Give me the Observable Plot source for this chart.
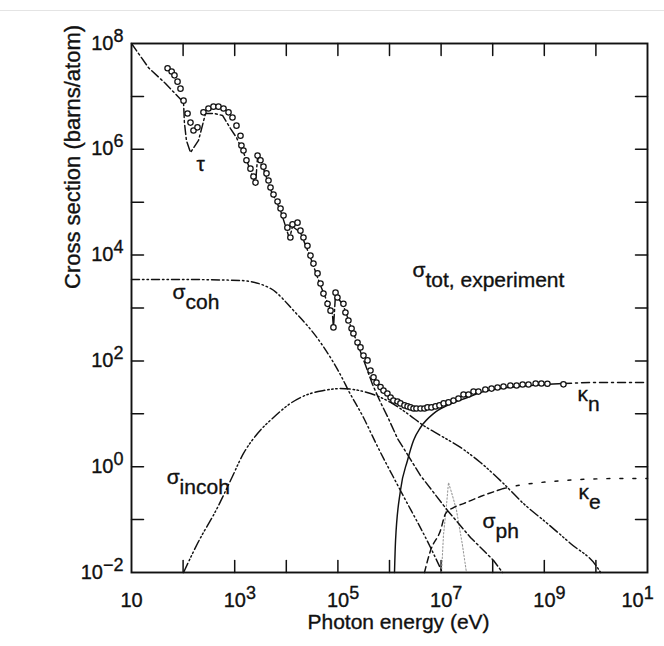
<!DOCTYPE html>
<html><head><meta charset="utf-8">
<script src="https://cdn.jsdelivr.net/npm/d3@7"></script>
<script src="https://cdn.jsdelivr.net/npm/@observablehq/plot@0.6"></script>
<style>
body{margin:0;background:#fff;}
#chart svg{display:block;}
#edge{position:absolute;left:0;top:10px;width:664px;height:1px;background:#e4e4e4;}
</style></head><body>
<div id="edge"></div>
<div id="chart"></div>
<script>
// ---- tick values and labels ----
const xTickVals = [1e2,1e3,1e4,1e5,1e6,1e7,1e8,1e9,1e10];
const yTickVals = [1e-1,1,1e1,1e2,1e3,1e4,1e5,1e6,1e7];
const xLabelVals = [10,1e3,1e5,1e7,1e9];
const xLabelText = ["10","10^3","10^5","10^7","10^9"];
const xLastVal = [1e11];
const xLastText = ["10^1"];
const yLabelVals = [1e8,1e6,1e4,1e2,1,1e-2];
const yLabelText = ["10^8","10^6","10^4","10^2","10^0","10^\u22122"];

// ---- sigma_tot, experiment (open circles) ----
const expE = [50,60,68,78,89,102,122,139,159,190,248,310,388,485,607,759,906,1083,1295,1350,1480,1690,2020,2310,2530,
  2770,3160,3610,4130,4520,4940,5650,6760,7730,8830,1.05e4,1.2e4,1.32e4,1.65e4,1.88e4,2.15e4,2.57e4,2.94e4,3.36e4,4.03e4,
  4.6e4,5.25e4,6.3e4,7.2e4,8.2e4,9e4,9.8e4,1.28e5,1.4e5,1.6e5,1.84e5,2e5,2.4e5,2.74e5,3.13e5,3.75e5,4.28e5,4.9e5,5.6e5,
  6.7e5,7.65e5,9.1e5,1.05e6,1.19e6,1.43e6,1.63e6,1.95e6,2.24e6,2.55e6,2.92e6,3.33e6,4e6,4.76e6,5.45e6,6.5e6,7.8e6,9.3e6,
  1.12e7,1.39e7,1.74e7,2.17e7,2.72e7,3.4e7,4.25e7,5.3e7,7.2e7,9.5e7,1.24e8,1.62e8,2.2e8,2.9e8,3.8e8,4.94e8,6.8e8,8.8e8,1.15e9,2.35e9];
const expS = [3.4e7,2.95e7,2.5e7,1.9e7,1.4e7,8.3e6,4.75e6,3.2e6,2.27e6,2.6e6,5e6,5.9e6,6.4e6,6.4e6,5.9e6,5e6,4e6,2.8e6,1.8e6,1.18e6,9.5e5,6.2e5,4.3e5,3.06e5,2.35e5,
  7.6e5,6.2e5,4.7e5,3.5e5,2.57e5,1.9e5,1.4e5,1.03e5,7.6e4,5.6e4,3.3e4,2.15e4,3.8e4,4.1e4,2.9e4,2.15e4,1.5e4,9.8e3,6.9e3,4.5e3,
  2.9e3,1.87e3,1.2e3,890,430,1950,1580,1200,823,580,409,330,223,180,126,102,65.8,49,38.9,
  32,27.5,24.2,20.3,17.8,17.1,15.7,14.4,13.8,13.2,12.6,12.6,12.6,12.6,13.2,13.2,13.8,14.4,
  15.7,16.4,17.8,19.5,23.2,23.2,26.3,26.3,28.8,30,31.4,32.8,34.3,34.3,35.8,35.8,37.4,37.4,37,36];

// ---- tau (photoelectric) ----
const tauE = [10,21.3,45.6,102,106,116,139,199,272,406,581,830,1080,1480,2020,2530,2770,3610,4940,7730,1.15e4,1.32e4,1.88e4,2.94e4,4.6e4,7.85e4,8.2e4,8.98e4,
  1.28e5,1.75e5,2.4e5,3.28e5,4.69e5,6.7e5,9.14e5,1.43e6,3.99e6,1.33e7,3.71e7,1.04e8,1.55e8];
const tauS = [1e8,3.5e7,1.75e7,7.7e6,3.2e6,1.47e6,8.7e5,1.47e6,4.75e6,4.75e6,4.36e6,2.47e6,1.67e6,8.7e5,3.98e5,2.16e5,7e5,4.34e5,1.74e5,6.97e4,2.06e4,3.47e4,2.67e4,9e3,2.66e3,753,409,1.8e3,
  1.11e3,467,213,93,35.8,16.4,8.9,3.41,0.68,0.149,0.046,0.0169,0.01];

// ---- sigma_coh ----
const cohE = [10,89,1295,4940,1.38e4,4.6e4,1.28e5,1.53e5,3.13e5,5.6e5,1.63e6,6.24e6,1.06e7];
const cohS = [3460,3460,3310,2340,897,223,42.6,30,8.5,2.63,0.355,0.0297,0.01];

// ---- sigma_incoh ----
const incE = [102,190,464,830,1480,2770,5650,1.2e4,2.94e4,5.26e4,1.12e5,2e5,4.29e5,1.05e6,2.23e6,4.56e6,9.7e6,2.38e7,5.8e7,1.62e8,3.95e8,1.15e9,3.22e9,1.07e10,1.23e10];
const incS = [0.01,0.0353,0.169,0.548,1.78,4.25,8.51,15.7,24.2,27.5,30,28.8,24.2,16.4,10.1,6.01,3.89,2.31,1.2,0.48,0.201,0.0843,0.0353,0.0124,0.01];

// ---- kappa_n (pair, nuclear field) ----
const knE = [1.25e6,1.31e6,1.63e6,2.23e6,2.92e6,3.99e6,7.13e6,1.33e7,3.25e7,5.8e7,1.42e8,5.4e8,2.36e9];
const knS = [0.01,0.0403,0.355,1.31,3.13,5.51,10.1,14.4,20.3,25.3,30,34.3,37.4];
const knTailE = [2.36e9,1.23e10,1e11];
const knTailS = [37.4,39.1,39.1];

// ---- kappa_e (pair, electron field) ----
const keE = [4.76e6,6.24e6,9.73e6,1.22e7,1.74e7,2.72e7,5.8e7,1.62e8];
const keS = [0.01,0.026,0.0622,0.13,0.169,0.201,0.273,0.387];
const keTailE = [1.62e8,3.95e8,8.43e8,5.03e9,3e10,1e11];
const keTailS = [0.387,0.46,0.502,0.573,0.598,0.598];

// ---- sigma_ph (photonuclear) ----
const phE = [1.02e7,1.11e7,1.27e7,1.39e7,1.66e7,1.99e7,2.6e7,3.1e7];
const phS = [0.01,0.05,0.185,0.502,0.285,0.149,0.0324,0.01];

// ---- curve labels ----
const labelText = ["\u03c4","\u03c3_coh","\u03c3_tot, experiment","\u03c3_incoh","\u03ba_n","\u03ba_e","\u03c3_ph"];
const labelE = [182,62.4,2.79e6,48,4.4e9,4.6e9,6.34e7];
const labelS = [3.97e5,1510,3780,0.481,17.8,0.25,0.068];

const xTitle = "Photon energy (eV)";
const yTitle = "Cross section (barns/atom)";

const pts = (E,S) => E.map((e,i)=>({E:e, s:S[i]}));
const ink = "#111";
const tickShape = {draw(ctx, l){ ctx.moveTo(0,0); ctx.lineTo(0,-l); }};
const tk = {length: 12, anchor: "start", shape: tickShape, stroke: ink, strokeWidth: 1.5};
const lineOpt = (extra) => Object.assign({x:"E", y:"s", stroke: ink, strokeWidth: 1.45, curve: "monotone-x"}, extra);
const txt = {fill: ink, stroke: ink, strokeWidth: 0.35};

const chart = Plot.plot({
  width: 664, height: 646,
  marginLeft: 131, marginRight: 17, marginTop: 43, marginBottom: 74,
  style: {fontFamily: "'Liberation Sans', Arial, Helvetica, sans-serif", background: "white", color: ink},
  x: {type: "log", domain: [10, 1e11], axis: null},
  y: {type: "log", domain: [1e-2, 1e8], axis: null},
  marks: [
    // inward ticks on all four sides
    Plot.vector(xTickVals, {x: d=>d, frameAnchor: "bottom", rotate: 0, ...tk}),
    Plot.vector(xTickVals, {x: d=>d, frameAnchor: "top", rotate: 180, ...tk}),
    Plot.vector(yTickVals, {y: d=>d, frameAnchor: "left", rotate: 90, ...tk}),
    Plot.vector(yTickVals, {y: d=>d, frameAnchor: "right", rotate: 270, ...tk}),
    // theory curves
    Plot.line(pts(phE,phS), lineOpt({stroke: "#9a9a9a", strokeWidth: 1.1, strokeDasharray: "1.5,2", curve: "linear"})),
    Plot.line(pts(cohE,cohS), lineOpt({strokeDasharray: "8,3,1.5,3,1.5,3"})),
    Plot.line(pts(incE,incS), lineOpt({strokeDasharray: "10,3,1.5,2.5,1.5,2.5,1.5,3"})),
    Plot.line(pts(tauE,tauS), lineOpt({strokeDasharray: "9,3,2,3", curve: "linear"})),
    Plot.line(pts(knE,knS), lineOpt({})),
    Plot.line(pts(knTailE,knTailS), lineOpt({strokeDasharray: "8,4,2,4"})),
    Plot.line(pts(keE,keS), lineOpt({strokeDasharray: "6,4"})),
    Plot.line(pts(keTailE,keTailS), lineOpt({strokeDasharray: "3,10"})),
    // experimental points
    Plot.dot(pts(expE,expS), {x:"E", y:"s", r: 2.7, stroke: ink, strokeWidth: 1.25, fill: "white"}),
    // frame
    Plot.frame({stroke: ink, strokeWidth: 1.9}),
    // tick labels
    Plot.text(xLabelVals, {x: d=>d, frameAnchor: "bottom", text: (d,i)=>xLabelText[i], textAnchor: "start", dx: -11, dy: 34, lineAnchor: "bottom", fontSize: 20, ...txt}),
    Plot.text(xLastVal, {x: d=>d, frameAnchor: "bottom", text: (d,i)=>xLastText[i], textAnchor: "start", dx: -26, dy: 34, lineAnchor: "bottom", fontSize: 20, ...txt}),
    Plot.text(yLabelVals, {y: d=>d, frameAnchor: "left", text: (d,i)=>yLabelText[i], textAnchor: "end", dx: -8, dy: 6, lineAnchor: "bottom", fontSize: 20, ...txt}),
    // curve labels
    Plot.text(labelText.map((t,i)=>({t, E: labelE[i], s: labelS[i]})), {x:"E", y:"s", text:"t", textAnchor: "start", lineAnchor: "bottom", fontSize: 21, ...txt}),
    // axis titles
    Plot.text([xTitle], {frameAnchor: "bottom", text: d=>d, dx: 9, dy: 56, lineAnchor: "bottom", fontSize: 21, ...txt}),
    Plot.text([yTitle], {frameAnchor: "left", text: d=>d, rotate: -90, dx: -59, dy: -19, fontSize: 22, ...txt})
  ]
});

// rich text: "^" -> superscript, "_" -> subscript
d3.select(chart).selectAll("text").each(function(){
  const t = this.textContent;
  const m = t.match(/^(.*?)([\^_])(.*)$/);
  if (!m) return;
  const sel = d3.select(this);
  sel.text(null);
  sel.append("tspan").text(m[1]);
  if (m[2] === "^") sel.append("tspan").attr("dy", -8).attr("font-size", 18).text(m[3]);
  else sel.append("tspan").attr("dy", 10).text(m[3]);
});

document.getElementById("chart").appendChild(chart);
</script>
</body></html>
